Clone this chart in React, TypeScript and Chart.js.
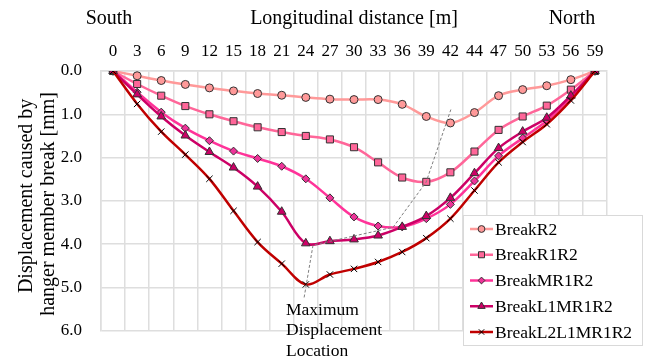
import React, { useEffect, useRef } from 'react';
import { Chart, registerables } from 'chart.js';
import { drawPoint } from 'chart.js/helpers';

Chart.register(...registerables);

// ---- data ----
const distances = ['0', '3', '6', '9', '12', '15', '18', '21', '24', '27', '30', '33', '36', '39', '42', '44', '47', '50', '53', '56', '59'];
const seriesNames = ['BreakR2', 'BreakR1R2', 'BreakMR1R2', 'BreakL1MR1R2', 'BreakL2L1MR1R2'];
const breakR2 = [0, 0.11, 0.22, 0.31, 0.39, 0.46, 0.52, 0.56, 0.61, 0.65, 0.66, 0.66, 0.77, 1.05, 1.2, 0.96, 0.57, 0.43, 0.34, 0.2, 0];
const breakR1R2 = [0, 0.3, 0.57, 0.81, 1.0, 1.16, 1.3, 1.41, 1.5, 1.58, 1.76, 2.11, 2.46, 2.56, 2.34, 1.86, 1.36, 1.05, 0.8, 0.43, 0];
const breakMR1R2 = [0, 0.49, 0.95, 1.32, 1.61, 1.85, 2.02, 2.2, 2.49, 2.93, 3.37, 3.58, 3.6, 3.41, 3.08, 2.54, 1.96, 1.55, 1.15, 0.61, 0];
const breakL1MR1R2 = [0, 0.54, 1.05, 1.49, 1.87, 2.23, 2.67, 3.25, 3.98, 3.93, 3.89, 3.8, 3.6, 3.35, 2.93, 2.36, 1.78, 1.4, 1.08, 0.57, 0];
const breakL2L1MR1R2 = [0, 0.76, 1.4, 1.93, 2.49, 3.23, 3.95, 4.45, 4.93, 4.7, 4.57, 4.41, 4.18, 3.86, 3.41, 2.76, 2.11, 1.64, 1.23, 0.68, 0];
const yTicks = [0, 1, 2, 3, 4, 5, 6];
// "Maximum Displacement Location" guide: [category index, displacement]
const guideIdx = [7.93, 8.3, 11.62, 12.99, 14.02];
const guideVal = [5.23, 4.02, 3.61, 2.57, 0.89];
const guideLabel = ['Maximum', 'Displacement', 'Location'];
const topTitles = ['South', 'Longitudinal distance [m]', 'North'];
const yTitle = ['Displacement caused by', 'hanger member break [mm]'];

// ---- styles ----
const FONT = "'Liberation Serif', 'Times New Roman', serif";
const lineColors = ['#FF9999', '#FF6699', '#FF3399', '#CC0066', '#C00000'];
const markerFill = ['#FF9999', '#FF6699', '#EE3399', '#CC0066', '#000000'];
const markerBorder = ['#333333', '#333333', '#333333', '#333333', '#000000'];
const markerStyle = ['circle', 'rect', 'rectRot', 'triangle', 'crossRot'];
const markerRadius = [4, 5, 4, 5, 4.5];

const allSeries = [breakR2, breakR1R2, breakMR1R2, breakL1MR1R2, breakL2L1MR1R2];

const decorPlugin = {
  id: 'decor',
  afterDatasetsDraw(chart: any) {
    const { ctx, scales } = chart;
    const x = scales.x;
    const y = scales.y;
    ctx.save();
    ctx.strokeStyle = '#7f7f7f';
    ctx.lineWidth = 1;
    ctx.setLineDash([3, 2]);
    ctx.beginPath();
    guideIdx.forEach((gi, i) => {
      const px = x.getPixelForValue(gi);
      const py = y.getPixelForValue(guideVal[i]);
      if (i === 0) ctx.moveTo(px, py);
      else ctx.lineTo(px, py);
    });
    ctx.stroke();
    ctx.restore();
  },
  afterDraw(chart: any) {
    const { ctx, chartArea } = chart;
    ctx.save();
    ctx.fillStyle = '#000';
    // top titles
    ctx.font = `20px ${FONT}`;
    ctx.textBaseline = 'middle';
    ctx.textAlign = 'center';
    ctx.fillText(topTitles[0], 109, 19);
    ctx.fillText(topTitles[1], 354, 19);
    ctx.fillText(topTitles[2], 572, 19);
    // y title
    ctx.save();
    ctx.translate(27, (chartArea.top + chartArea.bottom) / 2 - 5);
    ctx.rotate(-Math.PI / 2);
    ctx.fillText(yTitle[0], 0, 0);
    ctx.fillText(yTitle[1], -8, 21.5);
    ctx.restore();
    // guide label
    ctx.font = `17.5px ${FONT}`;
    ctx.textAlign = 'left';
    guideLabel.forEach((t, i) => ctx.fillText(t, 286, 310 + i * 20.5));
    // legend
    const lx = 463, ly = 215, lw = 179, lh = 130;
    ctx.fillStyle = '#fff';
    ctx.fillRect(lx, ly, lw, lh);
    ctx.strokeStyle = '#d9d9d9';
    ctx.lineWidth = 1;
    ctx.strokeRect(lx + 0.5, ly + 0.5, lw, lh);
    chart.data.datasets.forEach((ds: any, i: number) => {
      const cy = 229 + i * 25.75;
      ctx.strokeStyle = ds.borderColor;
      ctx.lineWidth = 2.5;
      ctx.beginPath();
      ctx.moveTo(470, cy);
      ctx.lineTo(493, cy);
      ctx.stroke();
      ctx.fillStyle = ds.pointBackgroundColor;
      ctx.strokeStyle = ds.pointBorderColor;
      ctx.lineWidth = 1;
      drawPoint(ctx, { pointStyle: ds.pointStyle, radius: ds.pointRadius * 0.85, rotation: 0, borderWidth: 1 } as any, 481.5, cy);
      ctx.fillStyle = '#000';
      ctx.font = `17.5px ${FONT}`;
      ctx.textBaseline = 'middle';
      ctx.fillText(ds.label, 495, cy + 1);
    });
    ctx.restore();
  },
};

export default function App() {
  const ref = useRef<HTMLCanvasElement>(null);
  useEffect(() => {
    if (!ref.current) return;
    const chart = new Chart(ref.current, {
      type: 'line',
      data: {
        labels: distances,
        datasets: allSeries.map((d, i) => ({
          label: seriesNames[i],
          data: d,
          borderColor: lineColors[i],
          backgroundColor: lineColors[i],
          borderWidth: 2.5,
          tension: 0.35,
          pointStyle: markerStyle[i] as any,
          pointRadius: markerRadius[i],
          pointBackgroundColor: markerFill[i],
          pointBorderColor: markerBorder[i],
          pointBorderWidth: 1,
          order: 4 - i,
          fill: false,
        })),
      },
      options: {
        animation: false,
        responsive: false,
        layout: { padding: { top: 0, left: 0, right: 41, bottom: 24 } },
        plugins: { legend: { display: false }, tooltip: { enabled: false } },
        scales: {
          x: {
            position: 'top',
            offset: true,
            grid: { offset: true, color: '#dedede', lineWidth: 1.5, drawTicks: false },
            border: { color: '#dedede', width: 1.5 },
            ticks: { color: '#000', font: { family: FONT, size: 17 }, padding: 9, maxRotation: 0, autoSkip: false },
            afterFit: (s: any) => { s.height = 71; },
          },
          y: {
            reverse: true,
            min: 0,
            max: 6,
            afterBuildTicks: (s: any) => { s.ticks = yTicks.map((v) => ({ value: v })); },
            grid: { color: '#dedede', lineWidth: 1.5, drawTicks: false },
            border: { color: '#dedede', width: 1.5 },
            ticks: { color: '#000', font: { family: FONT, size: 17 }, padding: 19, callback: (v: any) => Number(v).toFixed(1) },
            afterFit: (s: any) => { s.width = 101; },
          },
        },
      },
      plugins: [decorPlugin],
    });
    return () => chart.destroy();
  }, []);
  return (
    <div style={{ position: 'fixed', left: 0, top: 0, width: 648, height: 360, background: '#fff' }}>
      <canvas ref={ref} width={648} height={360} style={{ width: 648, height: 360 }} />
    </div>
  );
}
